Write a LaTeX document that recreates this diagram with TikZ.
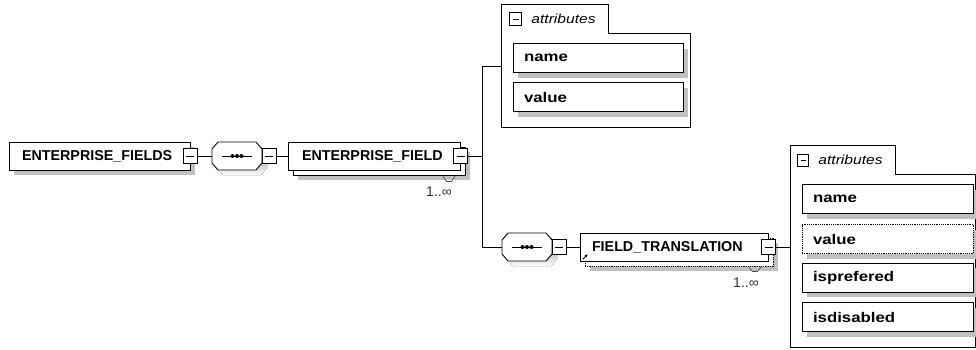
\documentclass[tikz,border=0pt]{standalone}
\usepackage{fontspec}
\setmainfont{Liberation Sans}
\newfontfamily\attrfont[FakeStretch=1.2]{Liberation Sans}
\usetikzlibrary{positioning,shadows,fit,arrows.meta}
\definecolor{shade}{HTML}{C0C0C0}

\tikzset{
  boxshadow/.style={drop shadow={shadow xshift=5pt,shadow yshift=-5pt,fill=shade,opacity=1}},
  elem/.style={draw,fill=white,line width=0.9pt,minimum height=28pt,inner xsep=13pt,
    align=left,font={\fontsize{14.3}{16}\selectfont\bfseries}},
  attr/.style={draw,fill=white,line width=0.9pt,minimum height=29pt,inner xsep=11pt,
    align=left,boxshadow,font={\attrfont\fontsize{14}{16}\selectfont\bfseries}},
  minusbox/.style={draw,fill=white,line width=0.8pt,minimum width=14pt,minimum height=15pt,inner sep=0pt,
    path picture={\draw[line width=0.8pt] ([xshift=3pt]path picture bounding box.west) -- ([xshift=-3pt]path picture bounding box.east);}},
  tabminus/.style={minusbox,minimum width=12pt,minimum height=13pt},
  seq/.style={minimum width=50pt,minimum height=28pt,inner sep=0pt},
  conn/.style={line width=0.9pt},
  grpline/.style={line width=0.9pt},
  tab/.style={minimum height=28pt,inner sep=0pt},
  tabtext/.style={inner sep=0pt,font={\attrfont\fontsize{13}{15}\selectfont\itshape}},
  mult/.style={inner sep=0pt,text=black!80,font={\fontsize{14}{16}\selectfont}},
  wedge/.style={line width=0.6pt,draw=black!75},
}

% octagon of a sequence compositor, drawn round an empty node
\newcommand\seqframe[1]{%
  \fill[shade,shift={(#1.center)},xshift=5pt,yshift=-5pt]
    (-25,-7) -- (-19,-14) -- (19,-14) -- (25,-7) -- (25,7) -- (19,14) -- (-19,14) -- (-25,7) -- cycle;
  \draw[fill=white,line width=0.9pt,shift={(#1.center)}]
    (-25,-7) -- (-19,-14) -- (19,-14) -- (25,-7) -- (25,7) -- (19,14) -- (-19,14) -- (-25,7) -- cycle;
  \draw[line width=0.9pt,shift={(#1.center)}] (-15,0) -- (15,0);
  \foreach \d in {-4.5,0,4.5} \fill[shift={(#1.center)}] (\d,0) circle (2pt);
}

\begin{document}
\begin{tikzpicture}[x=1pt,y=-1pt]
\useasboundingbox (0,0) rectangle (976,349);

% root element and its sequence
\node[elem,boxshadow,text width=155pt] (fields) at (99.5,156) {ENTERPRISE\_FIELDS};
\node[minusbox] (fields-m) at (190,156) {};
\node[seq] (seq1) at (237,156) {};
\seqframe{seq1}
\node[minusbox] (seq1-m) at (269,156) {};

% repeated element
\node[elem,boxshadow,minimum width=172pt] (field-b) at (379,161) {};
\node[elem,text width=144pt,inner xsep=14pt] (field) at (374,156) {ENTERPRISE\_FIELD};
\node[minusbox] (field-m) at (460.5,156) {};
\draw[wedge] ([xshift=-23pt]field-b.south east) -- ++(4,6) -- ++(5,0) -- ++(4,-6);
\node[mult] (field-n) at (439,192) {1..∞};
\coordinate (split) at (482,156);

% attributes of ENTERPRISE_FIELD
\node[fit={(502,5) (690,127)},inner sep=0pt] (grp1) {};
\node[tab,minimum width=106pt] (tab1) at (555,19) {};
\draw[grpline] (grp1.south west) |- (tab1.north east) |- (grp1.east |- tab1.south) |- (grp1.south west) -- cycle;
\node[tabminus] (tab1-m) at ([xshift=14pt]tab1.west) {};
\node[tabtext,right=9pt of tab1-m] (tab1-t) {attributes};
\node[attr,text width=148pt] (g1-name) at (598,58) {name};
\node[attr,text width=148pt] (g1-value) at (598,97) {value};

% second sequence and FIELD_TRANSLATION
\node[seq] (seq2) at (527,247) {};
\seqframe{seq2}
\node[minusbox] (seq2-m) at (559,247) {};
\node[elem,boxshadow,minimum width=188pt,dash pattern=on 1.2pt off 1pt] (trans-b) at (679,252) {};
\node[elem,text width=164pt,inner xsep=12pt] (trans) at (674,247) {FIELD\_TRANSLATION};
\node[minusbox] (trans-m) at (768.5,247) {};
\draw[wedge] ([xshift=-25pt]trans-b.south east) -- ++(4,5) -- ++(5,0) -- ++(4,-5);
\node[mult] (trans-n) at (746,283) {1..∞};
\draw[-{Stealth[length=3pt,width=3pt]},line width=0.8pt] ([shift={(3pt,2pt)}]trans.south west) -- ++(5,-5);

% attributes of FIELD_TRANSLATION
\node[fit={(791,146) (975,347)},inner sep=0pt] (grp2) {};
\node[tab,minimum width=104pt] (tab2) at (843,160) {};
\draw[grpline] (grp2.south west) |- (tab2.north east) |- (grp2.east |- tab2.south) |- (grp2.south west) -- cycle;
\node[tabminus,minimum width=11pt,minimum height=12pt] (tab2-m) at ([xshift=12.5pt]tab2.west) {};
\node[tabtext,right=9pt of tab2-m] (tab2-t) {attributes};
\node[attr,text width=149pt] (g2-name) at (887.5,199) {name};
\node[attr,text width=149pt,dash pattern=on 1.2pt off 1pt] (g2-value) at (887.5,239) {value};
\node[attr,text width=149pt] (g2-pref) at (887.5,277.5) {isprefered};
\node[attr,text width=149pt] (g2-dis) at (887.5,317) {isdisabled};

% connectors
\draw[conn] (fields-m) -- (seq1);
\draw[conn] (seq1-m) -- (field);
\draw[conn] (field-m) -- (split);
\draw[conn] (split) |- (grp1.west);
\draw[conn] (split) |- (seq2);
\draw[conn] (seq2-m) -- (trans);
\draw[conn] (trans-m.east) -- (trans-m.east -| grp2.west);
\end{tikzpicture}
\end{document}
